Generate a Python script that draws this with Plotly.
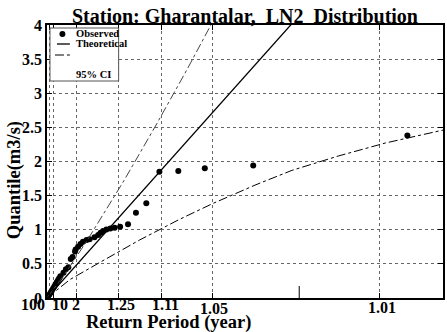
import plotly.graph_objects as go

# ---- data (x in axis units of theoretical quantile, y in m3/s) ----
obs_x = [0.0, 0.02, 0.04, 0.06, 0.08, 0.10, 0.12, 0.14, 0.16, 0.18, 0.20, 0.22, 0.27, 0.31,
         0.35, 0.39, 0.42, 0.46, 0.47, 0.51, 0.55, 0.59, 0.65, 0.70, 0.78, 0.84, 0.88, 0.92,
         0.975, 1.04, 1.11, 1.20, 1.33, 1.46, 1.63, 1.845, 2.155, 2.59, 3.385, 5.915]
obs_y = [0.0, 0.03, 0.05, 0.08, 0.11, 0.14, 0.17, 0.20, 0.23, 0.26, 0.29, 0.32, 0.37, 0.42,
         0.45, 0.57, 0.60, 0.68, 0.71, 0.75, 0.79, 0.825, 0.85, 0.86, 0.89, 0.923, 0.957, 0.98,
         1.005, 1.02, 1.03, 1.045, 1.08, 1.25, 1.39, 1.85, 1.86, 1.90, 1.94, 2.38]

theo_x = [0.0, 6.5]
theo_y = [0.0, 6.5]

ci_up_x = [0.0, 0.3, 0.65, 1.0, 1.27, 1.8, 2.3, 2.69, 3.0]
ci_up_y = [0.0, 0.36, 0.83, 1.33, 1.73, 2.55, 3.35, 4.0, 4.5]

ci_lo_x = [0.0, 0.376, 0.865, 1.52, 2.17, 2.71, 3.43, 4.02, 4.78, 5.55, 6.5]
ci_lo_y = [0.0, 0.27, 0.52, 0.85, 1.15, 1.38, 1.66, 1.87, 2.08, 2.27, 2.46]

grid_x = [0.038, 0.103, 0.48, 1.176, 1.878, 2.71, 5.465]      # gridline positions
extra_tick_x = [4.14]                                          # tick without grid
xlabel_text = ["100", "10", "2", "1.25", "1.11", "1.05", "1.01"]
xlabel_pos = [0.0, 0.215, 0.47, 1.21, 1.94, 2.74, 5.50]
xlabel_shift = [-14, 0, 0, 0, 0, 0, 0]
xlabel_drop = [0, 0, 0, 0, 0, 4, 3]

y_ticks = [0, 0.5, 1, 1.5, 2, 2.5, 3, 3.5, 4]
y_ticktext = ["0", "0.5", "1", "1.5", "2", "2.5", "3", "3.5", "4"]

legend_labels = ["Observed", "Theoretical", "95% CI"]

TITLE = "Station: Gharantalar,&nbsp; LN2&nbsp; Distribution"
FONT = "Times New Roman, Liberation Serif, DejaVu Serif, serif"

# plot area in pixels: x 47..445, y 25..298
L, R, T, B = 47, 445, 25, 298
def px(x):
    return (x - L) / (R - L)
def py(y):
    return (B - y) / (B - T)

fig = go.Figure()
fig.add_trace(go.Scatter(x=obs_x, y=obs_y, mode="markers", name=legend_labels[0],
                         marker=dict(color="black", size=6), showlegend=False))
fig.add_trace(go.Scatter(x=theo_x, y=theo_y, mode="lines", name=legend_labels[1],
                         line=dict(color="black", width=1.3), showlegend=False))
fig.add_trace(go.Scatter(x=ci_up_x, y=ci_up_y, mode="lines", name=legend_labels[2],
                         line=dict(color="#444", width=1, dash="dashdot"), showlegend=False))
fig.add_trace(go.Scatter(x=ci_lo_x, y=ci_lo_y, mode="lines", name=legend_labels[2],
                         line=dict(color="black", width=1, dash="dashdot"), showlegend=False))

annotations = []
for t, xp, s, d in zip(xlabel_text, xlabel_pos, xlabel_shift, xlabel_drop):
    annotations.append(dict(x=xp, y=0, xref="x", yref="paper", text=f"<b>{t}</b>",
                            showarrow=False, yanchor="top", xanchor="center",
                            xshift=s, yshift=4 - d,
                            font=dict(family=FONT, size=16, color="black")))
annotations.append(dict(x=px(169), y=py(322), xref="paper", yref="paper",
                        text="<b>Return Period (year)</b>", showarrow=False,
                        yanchor="middle", xanchor="center",
                        font=dict(family=FONT, size=18.5, color="black")))
annotations.append(dict(x=px(14), y=py(180), xref="paper", yref="paper",
                        text="<b>Quantile(m3/s)</b>", showarrow=False, textangle=-90,
                        xanchor="center", yanchor="middle",
                        font=dict(family=FONT, size=18.5, color="black")))
annotations.append(dict(x=px(246), y=py(16), xref="paper", yref="paper",
                        text=f"<b>{TITLE}</b>", showarrow=False,
                        xanchor="center", yanchor="middle",
                        font=dict(family=FONT, size=20, color="black")))

# ---- manual legend (MATLAB style) ----
shapes = [
    dict(type="rect", xref="paper", yref="paper", x0=px(50), x1=px(119), y0=py(81), y1=py(28),
         line=dict(color="#555", width=1), fillcolor="white", layer="above"),
    dict(type="circle", xref="paper", yref="paper", x0=px(59.5), x1=px(65.5), y0=py(37), y1=py(31),
         line=dict(color="black", width=0), fillcolor="black", layer="above"),
    dict(type="line", xref="paper", yref="paper", x0=px(57), x1=px(70), y0=py(44), y1=py(44),
         line=dict(color="black", width=1.3), layer="above"),
    dict(type="line", xref="paper", yref="paper", x0=px(55), x1=px(70), y0=py(55), y1=py(55),
         line=dict(color="black", width=1, dash="dashdot"), layer="above"),
]
for lab, yy in zip(legend_labels, [33, 44, 74]):
    annotations.append(dict(x=px(74), y=py(yy), xref="paper", yref="paper",
                            text=f"<b>{lab}</b>", showarrow=False, xanchor="left",
                            yanchor="middle",
                            font=dict(family=FONT, size=10.5, color="black")))

for xv in extra_tick_x:
    shapes.append(dict(type="line", xref="x", yref="y domain", x0=xv, x1=xv, y0=0, y1=0.044,
                       line=dict(color="black", width=1)))

fig.update_layout(
    width=447, height=332,
    margin=dict(l=L, r=447 - R, t=T, b=332 - B),
    paper_bgcolor="white", plot_bgcolor="white",
    showlegend=False,
    annotations=annotations,
    shapes=shapes,
)
fig.update_xaxes(range=[0, 6.5], tickvals=grid_x, ticktext=[""] * len(grid_x),
                 showgrid=True, gridcolor="#666", griddash="dot", gridwidth=1,
                 zeroline=False, showline=True, linecolor="black", linewidth=1.5,
                 mirror="ticks", ticks="inside", ticklen=5, tickcolor="black")
fig.update_yaxes(range=[0, 4], tickvals=y_ticks, ticktext=[f"<b>{t}</b>" for t in y_ticktext],
                 showgrid=True, gridcolor="#666", griddash="dot", gridwidth=1,
                 zeroline=False, showline=True, linecolor="black", linewidth=1.5,
                 mirror="ticks", ticks="inside", ticklen=5, tickcolor="black",
                 tickfont=dict(family=FONT, size=16, color="black"))

fig.write_html("out.html")
